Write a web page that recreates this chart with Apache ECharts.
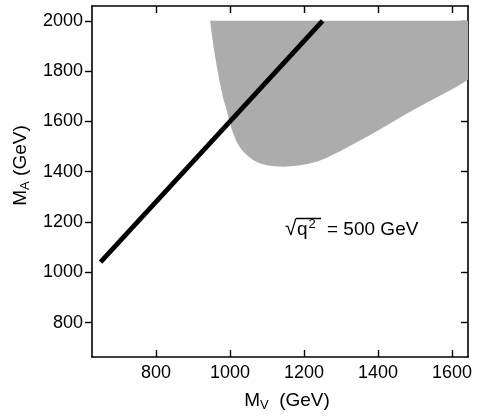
<!DOCTYPE html>
<html>
<head>
<meta charset="utf-8">
<script src="https://cdn.jsdelivr.net/npm/echarts@6/dist/echarts.min.js"></script>
<style>
  html, body { margin: 0; padding: 0; background: #fff; }
  #chart { width: 480px; height: 417px; }
</style>
</head>
<body>
<div id="chart"></div>
<script>
// axis ticks
const xTicks = [800, 1000, 1200, 1400, 1600];
const yTicks = [800, 1000, 1200, 1400, 1600, 1800, 2000];

// solid line, M_A vs M_V
const lineMV = [650, 1250];
const lineMA = [1040, 2000];

// shaded (excluded) region boundary
const regionMV = [946, 955, 964, 973, 982, 990, 997, 1004, 1011, 1018, 1027, 1036, 1049, 1063,
  1080, 1099, 1120, 1144, 1166, 1189, 1212, 1234, 1257, 1279, 1300, 1340, 1386, 1430, 1477,
  1520, 1567, 1610, 1650, 1650];
const regionMA = [2000, 1900, 1820, 1750, 1689, 1650, 1610, 1571, 1543, 1518, 1496, 1479, 1461, 1446,
  1434, 1426, 1422, 1420, 1422, 1426, 1432, 1440, 1452, 1468, 1483, 1515, 1552, 1590, 1630,
  1665, 1702, 1736, 1772, 2000];

const font = "'Liberation Sans', Arial, sans-serif";

const axisLine = { show: true, onZero: false, lineStyle: { color: '#000', width: 1.6 } };
const tickStyle = { color: '#000', width: 1.4 };
const plain = v => String(v);

let chart = echarts.init(document.getElementById('chart'));
chart.setOption({
  animation: false,
  backgroundColor: '#fff',
  grid: { left: 92, top: 6, right: 12, bottom: 56 },
  xAxis: [
    {
      type: 'value', position: 'bottom', min: 627, max: 1643,
      axisLine: axisLine,
      axisTick: { inside: true, length: 7, lineStyle: tickStyle, customValues: xTicks },
      axisLabel: { customValues: xTicks, formatter: plain, color: '#000', fontSize: 18, fontFamily: font, margin: 7 },
      splitLine: { show: false },
      name: '{m|M}{sub|V}{m|  (GeV)}',
      nameLocation: 'middle',
      nameGap: 33,
      nameTextStyle: {
        color: '#000', fontFamily: font, padding: [0, 0, 0, 14],
        rich: {
          m: { fontSize: 19, fontFamily: font, color: '#000' },
          sub: { fontSize: 13, fontFamily: font, color: '#000', padding: [9, 0, 0, 0] }
        }
      }
    },
    {
      type: 'value', position: 'top', min: 627, max: 1643,
      axisLine: axisLine,
      axisTick: { inside: true, length: 7, lineStyle: tickStyle, customValues: xTicks },
      axisLabel: { show: false },
      splitLine: { show: false }
    }
  ],
  yAxis: [
    {
      type: 'value', position: 'left', min: 663, max: 2059,
      axisLine: axisLine,
      axisTick: { inside: false, length: 7, lineStyle: tickStyle, customValues: yTicks },
      axisLabel: { customValues: yTicks, formatter: plain, color: '#000', fontSize: 18, fontFamily: font, margin: 9 },
      splitLine: { show: false },
      name: '{m|M}{sub|A}{m| (GeV)}',
      nameLocation: 'middle',
      nameRotate: 90,
      nameGap: 57,
      nameTextStyle: {
        color: '#000', fontFamily: font, padding: [0, 0, 0, 32],
        rich: {
          m: { fontSize: 19, fontFamily: font, color: '#000' },
          sub: { fontSize: 13, fontFamily: font, color: '#000', padding: [9, 0, 0, 0] }
        }
      }
    },
    {
      type: 'value', position: 'right', min: 663, max: 2059,
      axisLine: axisLine,
      axisTick: { inside: true, length: 7, lineStyle: tickStyle, customValues: yTicks },
      axisLabel: { show: false },
      splitLine: { show: false }
    }
  ],
  series: [
    {
      type: 'custom',
      xAxisIndex: 0,
      yAxisIndex: 0,
      clip: true,
      silent: true,
      data: [[regionMV[0], regionMA[0]]],
      renderItem: function (params, api) {
        let pts = regionMV.map((v, i) => api.coord([v, regionMA[i]]));
        return {
          type: 'polygon',
          shape: { points: pts },
          style: { fill: '#acacac', stroke: null }
        };
      },
      z: 1
    },
    {
      type: 'line',
      xAxisIndex: 0,
      yAxisIndex: 0,
      data: lineMV.map((v, i) => [v, lineMA[i]]),
      symbol: 'none',
      lineStyle: { color: '#000', width: 4.8, cap: 'butt' },
      z: 3
    }
  ],
  graphic: [
    { type: 'text', x: 285, y: 229, style: { text: '√', font: '21px ' + font, fill: '#000', textVerticalAlign: 'middle' } },
    { type: 'line', shape: { x1: 296, y1: 218.5, x2: 321, y2: 218.5 }, style: { stroke: '#000', lineWidth: 1.5 } },
    { type: 'text', x: 297, y: 230, style: { text: 'q', font: '19px ' + font, fill: '#000', textVerticalAlign: 'middle' } },
    { type: 'text', x: 308.5, y: 224.5, style: { text: '2', font: '13px ' + font, fill: '#000', textVerticalAlign: 'middle' } },
    { type: 'text', x: 327, y: 230, style: { text: '= 500 GeV', font: '19px ' + font, fill: '#000', textVerticalAlign: 'middle' } }
  ]
});
</script>
</body>
</html>
